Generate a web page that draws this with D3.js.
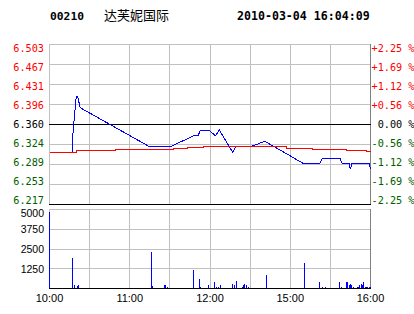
<!DOCTYPE html>
<html>
<head>
<meta charset="utf-8">
<script src="https://cdn.jsdelivr.net/npm/d3@7"></script>
<style>
  body { margin: 0; background: #fff; }
  svg { display: block; }
  .mono { font-family: "DejaVu Sans Mono", monospace; }
  .sans { font-family: "Liberation Sans", Arial, sans-serif; }
</style>
</head>
<body>
<svg id="chart" width="414" height="314"></svg>
<script>
// header
const stockCode = '00210';
const stockName = '达芙妮国际';
const stamp = '2010-03-04 16:04:09';
const prevClose = 6.36;

// price (minute line)
const priceTimes = ['10:00','10:17','10:17','10:20','10:21','10:22','10:23','11:15','11:30','11:48','11:51','11:53','11:59','12:04','12:07','12:17','12:19','12:30','14:41','15:10','15:22','15:24','15:37','15:39','15:44','15:45','15:46','15:59','16:00'];
const prices     = [6.31, 6.31, 6.33, 6.41, 6.41, 6.40, 6.39, 6.32, 6.32, 6.34, 6.34, 6.35, 6.35, 6.34, 6.35, 6.31, 6.32, 6.32, 6.33, 6.29, 6.29, 6.30, 6.30, 6.29, 6.29, 6.28, 6.29, 6.29, 6.28];

// average price line
const avgTimes = ['10:00','10:20','10:49','11:33','11:43','11:55','14:57','15:17','15:42','15:57','16:00'];
const avgs     = [6.3100, 6.3135, 6.3153, 6.3176, 6.3194, 6.3201, 6.3176, 6.3158, 6.3141, 6.3123, 6.3123];

// volume bars
const volTimes = ['10:00','10:17','10:19','10:21','10:22','11:16','11:17','11:26','11:27','11:28','11:48','11:52','11:53','11:59','12:03','12:05','12:06','12:08','12:17','12:18','12:20','12:24','12:25','12:26','12:27','12:29','14:42','15:11','15:22','15:24','15:26','15:37','15:38','15:42','15:43','15:44','15:45','15:46','15:47','15:50','15:51','15:52','15:53','15:54','15:55','15:56','15:57','15:58','15:59','16:00'];
const vols     = [4850, 1920, 190, 150, 210, 2300, 150, 190, 250, 120, 1140, 630, 120, 250, 440, 120, 120, 250, 310, 190, 500, 120, 190, 310, 230, 120, 880, 1640, 380, 120, 120, 380, 120, 440, 440, 190, 310, 190, 120, 120, 120, 250, 310, 250, 440, 120, 120, 120, 120, 120];

// axis labels
const priceLabels = ['6.503','6.467','6.431','6.396','6.360','6.324','6.289','6.253','6.217'];
const pctLabels   = ['+2.25 %','+1.69 %','+1.12 %','+0.56 %',' 0.00 %','-0.56 %','-1.12 %','-1.69 %','-2.25 %'];
const volTicks    = [5000, 3750, 2500, 1250];
const timeTicks   = ['10:00','11:00','12:00','15:00','16:00'];

const RED = '#ff0000', GREEN = '#006000', GRID = '#c0c0c0', FRAME = '#808080';

// minutes of trading since 10:00 (lunch 12:30-14:30 removed)
function toMin(t) {
    const [h, m] = t.split(':').map(Number);
    let v = (h - 10) * 60 + m;
    if (h >= 13) v -= 120;
    return v;
}
const crisp = v => Math.floor(v) + 0.5;

const svg = d3.select('#chart');
const x = d3.scaleLinear().domain([0, 240]).range([49.5, 370.5]);
const yPct = d3.scaleLinear().domain([-2.25, 2.25]).range([204.5, 44.5]);
const yPrice = p => yPct((p / prevClose - 1) * 100);
const yLab = d3.scaleLinear().domain([0, priceLabels.length - 1]).range([47.8, 200.2]);
const yVol = d3.scaleLinear().domain([0, 5000]).range([288.5, 209.5]);

// header
svg.append('text').attr('class', 'mono').attr('x', 50).attr('y', 20)
    .attr('font-size', 11.3).attr('font-weight', 'bold').text(stockCode);
svg.append('text').attr('x', 104).attr('y', 20)
    .attr('font-family', '"Noto Sans CJK SC", sans-serif').attr('font-size', 13).text(stockName);
svg.append('text').attr('class', 'mono').attr('x', 237).attr('y', 20)
    .attr('font-size', 11.6).attr('font-weight', 'bold').text(stamp);

const gridX = d3.range(0, 241, 30);
const pctSteps = d3.range(4, -5, -1).map(i => i * 0.5625);

// ---- price panel
const pg = svg.append('g').attr('shape-rendering', 'crispEdges');
pg.selectAll('.hx').data(pctSteps.slice(0, -1)).enter().append('line')
    .attr('x1', 49).attr('x2', 371)
    .attr('y1', d => crisp(yPct(d))).attr('y2', d => crisp(yPct(d)))
    .attr('stroke', GRID);
pg.selectAll('.vx').data(gridX.slice(0, -1)).enter().append('line')
    .attr('x1', d => crisp(x(d))).attr('x2', d => crisp(x(d)))
    .attr('y1', 44).attr('y2', 204)
    .attr('stroke', GRID);
pg.append('line').attr('x1', crisp(x(240))).attr('x2', crisp(x(240)))
    .attr('y1', 44).attr('y2', 205).attr('stroke', FRAME);
pg.append('line').attr('x1', 49).attr('x2', 371)
    .attr('y1', crisp(yPct(0))).attr('y2', crisp(yPct(0))).attr('stroke', '#000');
pg.append('line').attr('x1', 49).attr('x2', 371)
    .attr('y1', crisp(yPct(-2.25))).attr('y2', crisp(yPct(-2.25))).attr('stroke', '#000');

const priceLine = d3.line().x(d => x(toMin(d[0]))).y(d => yPrice(d[1]));
pg.append('path').datum(d3.zip(priceTimes, prices))
    .attr('d', priceLine).attr('fill', 'none').attr('stroke', '#0000ff').attr('stroke-width', 1);

const avgLine = d3.line().curve(d3.curveStepAfter)
    .x(d => x(toMin(d[0]))).y(d => yPrice(d[1]));
pg.append('path').datum(d3.zip(avgTimes, avgs))
    .attr('d', avgLine).attr('fill', 'none').attr('stroke', RED).attr('stroke-width', 1);

const labColor = i => i < 4 ? RED : (i === 4 ? '#000' : GREEN);
svg.selectAll('.pl').data(priceLabels).enter().append('text')
    .attr('class', 'mono').attr('font-size', 10.2)
    .attr('x', 44).attr('y', (d, i) => yLab(i) + 3.8)
    .attr('text-anchor', 'end').attr('fill', (d, i) => labColor(i)).text(d => d);
svg.selectAll('.rl').data(pctLabels).enter().append('text')
    .attr('class', 'mono').attr('font-size', 10.2).attr('xml:space', 'preserve')
    .style('white-space', 'pre')
    .attr('x', 371.5).attr('y', (d, i) => yLab(i) + 3.8)
    .attr('fill', (d, i) => labColor(i)).text(d => d);

// ---- volume panel
const vg = svg.append('g').attr('shape-rendering', 'crispEdges');
vg.selectAll('.hv').data(volTicks).enter().append('line')
    .attr('x1', 49).attr('x2', 371)
    .attr('y1', d => crisp(yVol(d))).attr('y2', d => crisp(yVol(d)))
    .attr('stroke', GRID);
vg.selectAll('.vv').data(gridX.slice(0, -1)).enter().append('line')
    .attr('x1', d => crisp(x(d))).attr('x2', d => crisp(x(d)))
    .attr('y1', 209).attr('y2', 289)
    .attr('stroke', GRID);
vg.append('line').attr('x1', crisp(x(240))).attr('x2', crisp(x(240)))
    .attr('y1', 209).attr('y2', 289).attr('stroke', FRAME);

vg.selectAll('.bar').data(d3.zip(volTimes, vols)).enter().append('rect')
    .attr('x', d => Math.floor(x(toMin(d[0]))))
    .attr('width', 1)
    .attr('y', d => Math.round(yVol(d[1])))
    .attr('height', d => 288 - Math.round(yVol(d[1])))
    .attr('fill', '#0000ff');

vg.append('line').attr('x1', 49).attr('x2', 371)
    .attr('y1', crisp(yVol(0))).attr('y2', crisp(yVol(0))).attr('stroke', '#000');

svg.selectAll('.vl').data(volTicks).enter().append('text')
    .attr('class', 'sans').attr('font-size', 10.5)
    .attr('x', 44).attr('y', d => yVol(d) + (d === 5000 ? 7.5 : 4))
    .attr('text-anchor', 'end').attr('fill', '#000').text(d => d);

svg.selectAll('.tl').data(timeTicks).enter().append('text')
    .attr('class', 'sans').attr('font-size', 11)
    .attr('x', (d, i) => x(i * 60)).attr('y', 302)
    .attr('text-anchor', 'middle').attr('fill', '#000').text(d => d);
</script>
</body>
</html>
